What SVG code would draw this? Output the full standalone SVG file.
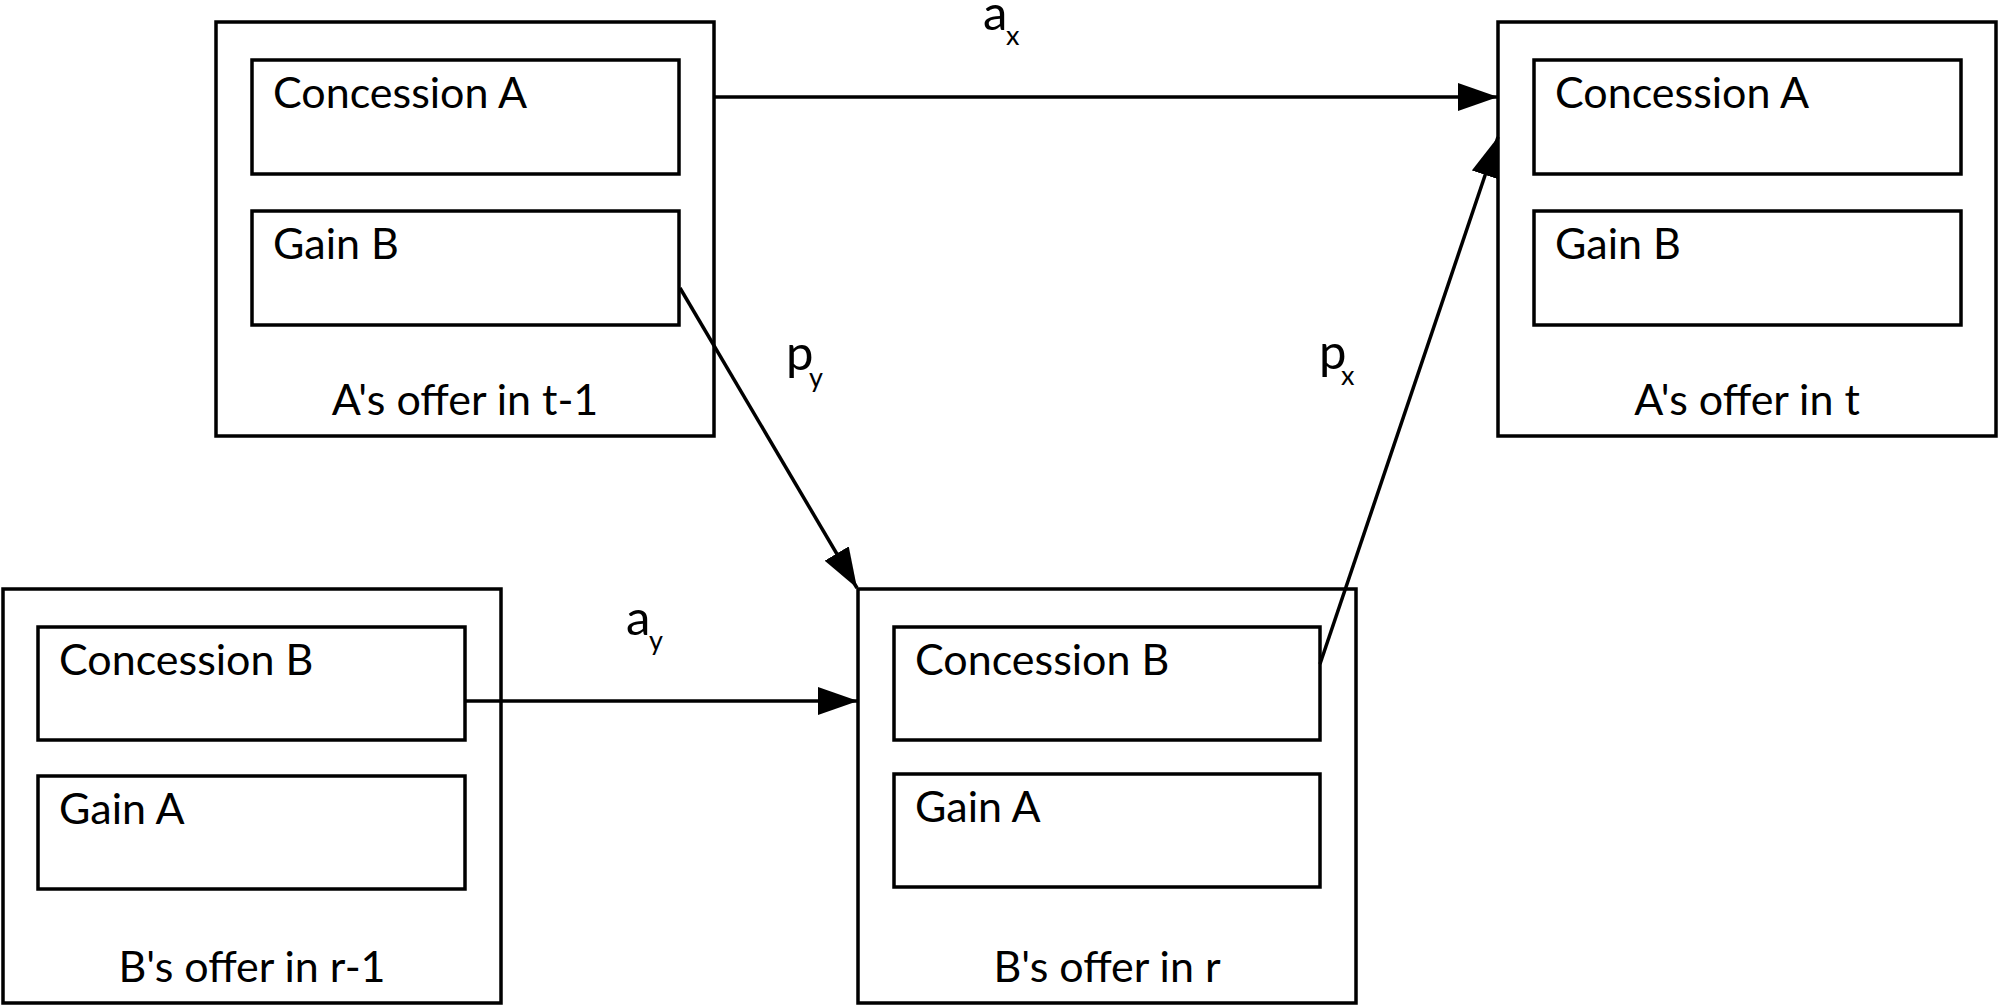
<svg xmlns="http://www.w3.org/2000/svg" width="2001" height="1006" viewBox="0 0 2001 1006">
  <style>
    .outer { fill: #ffffff; stroke: #000000; stroke-width: 3.5; }
    .inner { fill: #ffffff; stroke: #000000; stroke-width: 3.5; }
    .txt { font-family: Lato, "Open Sans", "Liberation Sans", sans-serif; font-size: 43px; fill: #000000; }
    .lbl { text-anchor: middle; }
    .sym { font-family: Lato, "Open Sans", "Liberation Sans", sans-serif; font-size: 49px; fill: #000000; }
    .sub { font-size: 27px; }
    .conn { stroke: #000000; stroke-width: 3.5; fill: none; marker-end: url(#arrow); }
  </style>
  <defs>
    <marker id="arrow" markerUnits="userSpaceOnUse" markerWidth="40" markerHeight="28" refX="40" refY="14" orient="auto">
      <path d="M0,0 L40,14 L0,28 Z" fill="#000000"/>
    </marker>
  </defs>
  <rect width="2001" height="1006" fill="#ffffff"/>

  <g id="node-A-t-1">
    <rect class="outer" x="216" y="22" width="498" height="414"/>
    <rect class="inner" x="252" y="60" width="427" height="114"/>
    <text class="txt" x="273" y="108">Concession A</text>
    <rect class="inner" x="252" y="211" width="427" height="114"/>
    <text class="txt" x="273" y="259">Gain B</text>
    <text class="txt lbl" x="465" y="415">A's offer in t-1</text>
  </g>

  <g id="node-A-t">
    <rect class="outer" x="1498" y="22" width="498" height="414"/>
    <rect class="inner" x="1534" y="60" width="427" height="114"/>
    <text class="txt" x="1555" y="108">Concession A</text>
    <rect class="inner" x="1534" y="211" width="427" height="114"/>
    <text class="txt" x="1555" y="259">Gain B</text>
    <text class="txt lbl" x="1747" y="415">A's offer in t</text>
  </g>

  <g id="node-B-r-1">
    <rect class="outer" x="3" y="589" width="498" height="414"/>
    <rect class="inner" x="38" y="627" width="427" height="113"/>
    <text class="txt" x="59" y="675">Concession B</text>
    <rect class="inner" x="38" y="776" width="427" height="113"/>
    <text class="txt" x="59" y="824">Gain A</text>
    <text class="txt lbl" x="252" y="982">B's offer in r-1</text>
  </g>

  <g id="node-B-r">
    <rect class="outer" x="858" y="589" width="498" height="414"/>
    <rect class="inner" x="894" y="627" width="426" height="113"/>
    <text class="txt" x="915" y="675">Concession B</text>
    <rect class="inner" x="894" y="774" width="426" height="113"/>
    <text class="txt" x="915" y="822">Gain A</text>
    <text class="txt lbl" x="1107" y="982">B's offer in r</text>
  </g>

  <g id="connectors">
    <line class="conn" x1="714" y1="97" x2="1498" y2="97"/>
    <line class="conn" x1="680" y1="288" x2="857" y2="588"/>
    <line class="conn" x1="465" y1="701" x2="858" y2="701"/>
    <line class="conn" x1="1320" y1="664" x2="1498" y2="137"/>
  </g>

  <g id="labels">
    <text class="sym" x="983" y="30">a<tspan class="sub" x="1006" y="45">x</tspan></text>
    <text class="sym" x="786" y="370">p<tspan class="sub" x="809" y="387">y</tspan></text>
    <text class="sym" x="626" y="635">a<tspan class="sub" x="649" y="650">y</tspan></text>
    <text class="sym" x="1319" y="369">p<tspan class="sub" x="1341" y="385">x</tspan></text>
  </g>
</svg>
